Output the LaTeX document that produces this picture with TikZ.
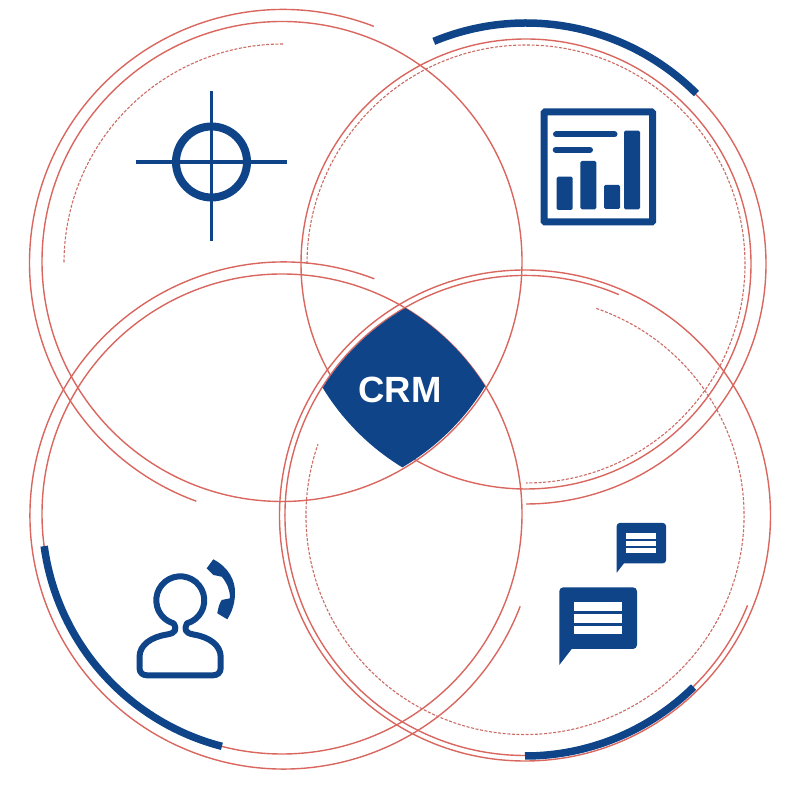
\documentclass[tikz,border=0pt]{standalone}
\usepackage{fontspec}
\setmainfont{Liberation Sans}
\definecolor{crmred}{HTML}{D9675F}
\definecolor{crmblue}{HTML}{0F4488}
\tikzset{
	redline/.style={draw=crmred, line width=1.4},
	reddash/.style={draw=crmred!85!gray, line width=1.1, dash pattern=on 3 off 1.6},
	bluearc/.style={draw=crmblue, line width=7.5},
	iconline/.style={draw=crmblue, line width=6, line join=round},
	iconfill/.style={fill=crmblue, rounded corners=1.5},
	iconbar/.style={draw=crmblue, line width=6, line cap=round},
	whitebar/.style={fill=white}
}
\begin{document}
\begin{tikzpicture}[x=1pt, y=1pt]
	\useasboundingbox (0,0) rectangle (800,800);
	\coordinate (tl) at (283,537);
	\coordinate (tr) at (526,536);
	\coordinate (bl) at (283.5,284.5);
	\coordinate (br) at (525,284.5);

	\draw [redline] (282,538.5) circle [radius=240];
	\draw [redline] (tr) circle [radius=225];
	\draw [redline] (282,286) circle [radius=240];
	\draw [redline] (br) circle [radius=245.5];

	\draw [redline] (tl) ++(69:253.5) arc [start angle=69, end angle=250, radius=253.5];
	\draw [redline] (tr) ++(45:240) arc [start angle=45, end angle=-90, radius=240];
	\draw [redline] (bl) ++(69:253.5) arc [start angle=69, end angle=339, radius=253.5];
	\draw [redline] (br) ++(67:240) arc [start angle=67, end angle=338, radius=240];

	\draw [reddash] (tl) ++(90:219) arc [start angle=90, end angle=180, radius=219];
	\draw [reddash] (tr) ++(180:219) arc [start angle=180, end angle=-90, radius=219];
	\draw [reddash] (br) ++(71:219) arc [start angle=71, end angle=-199, radius=219];

	\draw [bluearc] (tr) ++(112.5:241) arc [start angle=112.5, end angle=45, radius=241];
	\draw [bluearc] (282,286) ++(187.7:240) arc [start angle=187.7, end angle=255.5, radius=240];
	\draw [bluearc] (br) ++(270:240.5) arc [start angle=270, end angle=314.5, radius=240.5];

	\begin{scope}
		\clip (525,285) circle [radius=239];
		\clip (282,286) circle [radius=240];
		\clip (282,538) circle [radius=238];
		\fill [crmblue] (526,536) circle [radius=238];
	\end{scope}
	\node [text=white, font=\bfseries\fontsize{36.5}{40}\selectfont] (crmlabel) at (400,410) {CRM};

	\draw [crmblue, line width=8] (211.5,638) circle [radius=35.5];
	\draw [crmblue, line width=3.8] (136,638) -- (287,638);
	\draw [crmblue, line width=3.8] (211.5,709) -- (211.5,559);

	\draw [crmblue, line width=7, rounded corners=1] (544,688) rectangle (652.7,578);
	\draw [iconbar] (556,665.5) -- (614.5,665.5);
	\draw [iconbar] (555.7,650.3) -- (590,650.3);
	\fill [iconfill] (556.7,590) rectangle (572.7,623.3);
	\fill [iconfill] (580.3,590.7) rectangle (596.3,639);
	\fill [iconfill] (604,591) rectangle (620,615);
	\fill [iconfill] (624,590.7) rectangle (640,669.3);

	\draw [iconline] (186.9,176.6) arc [start angle=-74, end angle=254, radius=24]
		.. controls (177,170.5) and (176,167) .. (167,165.5)
		.. controls (151,163) and (139.5,155) .. (139.5,143) -- (139.5,132)
		.. controls (139.5,127) and (143,124.7) .. (147,124.7) -- (213,124.7)
		.. controls (217,124.7) and (220.7,127) .. (220.7,132) -- (220.7,143)
		.. controls (220.7,155) and (209,163) .. (193.5,165.5)
		.. controls (185,167) and (184,170.5) .. (186.9,176.6) -- cycle;
	\fill [crmblue] (213.3,240.7) .. controls (228,233) and (236,220) .. (235,205)
		.. controls (234.5,196) and (232,188) .. (227.3,180.7) -- (217.3,186.7)
		.. controls (218,191) and (219,196) .. (221.7,200) -- (230,201.7)
		.. controls (230,210) and (227,217) .. (221.7,223.3) -- (213.3,225) -- (206.7,231.7) -- cycle;

	\fill [crmblue] (616.7,227.3) -- (616.7,260) [rounded corners=3] -- (616.7,277) -- (666,277) -- (666,236.7) -- (630,236.7) [sharp corners] -- (624,236.7) -- cycle;
	\fill [whitebar] (626,261.3) rectangle (656,266.7);
	\fill [whitebar] (626,254) rectangle (656,259.3);
	\fill [whitebar] (626,246.7) rectangle (656,252);

	\fill [crmblue] (559.3,135) -- (559.3,190) [rounded corners=4] -- (559.3,212.7) -- (637,212.7) -- (637,151) -- (580,151) [sharp corners] -- (571.7,151) -- cycle;
	\fill [whitebar] (574.3,189) rectangle (622.3,198);
	\fill [whitebar] (574.3,177.3) rectangle (622.3,186);
	\fill [whitebar] (574.3,165.7) rectangle (622.3,174);
\end{tikzpicture}
\end{document}
